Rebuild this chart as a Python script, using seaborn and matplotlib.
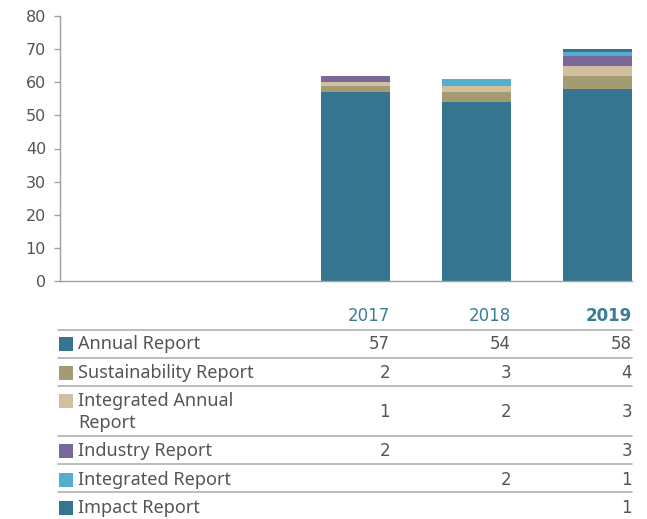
import numpy as np
import pandas as pd
import seaborn as sns
import matplotlib.pyplot as plt
from matplotlib.lines import Line2D
from matplotlib.patches import Rectangle
import matplotlib.transforms as mtrans

years = ['2017', '2018', '2019']
series = ['Annual Report', 'Sustainability Report', 'Integrated Annual\nReport',
          'Industry Report', 'Integrated Report', 'Impact Report']
annual = [57, 54, 58]
sustainability = [2, 3, 4]
integrated_annual = [1, 2, 3]
industry = [2, 0, 3]
integrated = [0, 2, 1]
impact = [0, 0, 1]
colors = ['#35758f', '#a69a72', '#d1c0a0', '#7a6899', '#56aecf', '#35758f']

values = [annual, sustainability, integrated_annual, industry, integrated, impact]

W, H = 647, 519
sns.set_theme(style='white')
plt.rcParams['font.family'] = ['Noto Sans', 'DejaVu Sans']
num_font = ['DejaVu Sans']

fig = plt.figure(figsize=(W / 100, H / 100), dpi=100)
ax = fig.add_axes([60 / W, 1 - 281 / H, (632 - 60) / W, (281 - 16) / H])

# stacked bars: draw cumulative totals from the top layer down
cum = np.cumsum(np.array(values), axis=0)
for k in range(len(series) - 1, -1, -1):
    df = pd.DataFrame({'year': years, 'total': cum[k]})
    sns.barplot(data=df, x='year', y='total', order=years, color=colors[k],
                width=0.57, saturation=1, ax=ax, linewidth=0)

ax.set_xlim(-2.44, 2.285)
ax.set_ylim(0, 80)
ax.set_yticks(range(0, 81, 10))
ax.set_xticks([])
ax.set_xlabel('')
ax.set_ylabel('')
for s in ['top', 'right']:
    ax.spines[s].set_visible(False)
for s in ['left', 'bottom']:
    ax.spines[s].set_color('#a0a0a0')
    ax.spines[s].set_linewidth(1)
ax.tick_params(axis='y', left=True, length=4, width=1, color='#a0a0a0',
               labelsize=11.5, labelcolor='#555555', pad=6)
for lab in ax.get_yticklabels():
    lab.set_family(num_font)

def fy(py):
    return 1 - py / H

blend = mtrans.blended_transform_factory(ax.transData, fig.transFigure)
text_col = '#555555'
head_col = '#3a7d99'
fs = 13
nfs = 12

# header
for i, y in enumerate(years):
    ax.text(i + 0.285, fy(316), y, transform=blend, ha='right', va='center',
            fontsize=nfs, color=head_col, family=num_font,
            fontweight='bold' if y == '2019' else 'normal', clip_on=False)

# table rows
row_text_y = [344, 373, 401, 451, 480, 508]
row_val_y = [344, 373, 412, 451, 480, 508]
line_y = [330, 358, 386, 436, 464, 492]
for py in line_y:
    fig.add_artist(Line2D([58 / W, 632 / W], [fy(py), fy(py)],
                          color='#b0b0b0', lw=1.2))

for r, name in enumerate(series):
    ty = row_text_y[r]
    fig.add_artist(Rectangle((59 / W, fy(ty + 7)), 14 / W, 14 / H,
                             transform=fig.transFigure, color=colors[r], lw=0))
    fig.text(78 / W, fy(ty), name.split('\n')[0], ha='left', va='center',
             fontsize=fs, color=text_col)
    if '\n' in name:
        fig.text(78 / W, fy(ty + 22), name.split('\n')[1], ha='left',
                 va='center', fontsize=fs, color=text_col)
    for i in range(len(years)):
        v = values[r][i]
        if v:
            ax.text(i + 0.285, fy(row_val_y[r]), str(v), transform=blend,
                    ha='right', va='center', fontsize=nfs, color=text_col,
                    family=num_font, clip_on=False)

fig.savefig('out.png', dpi=100)
